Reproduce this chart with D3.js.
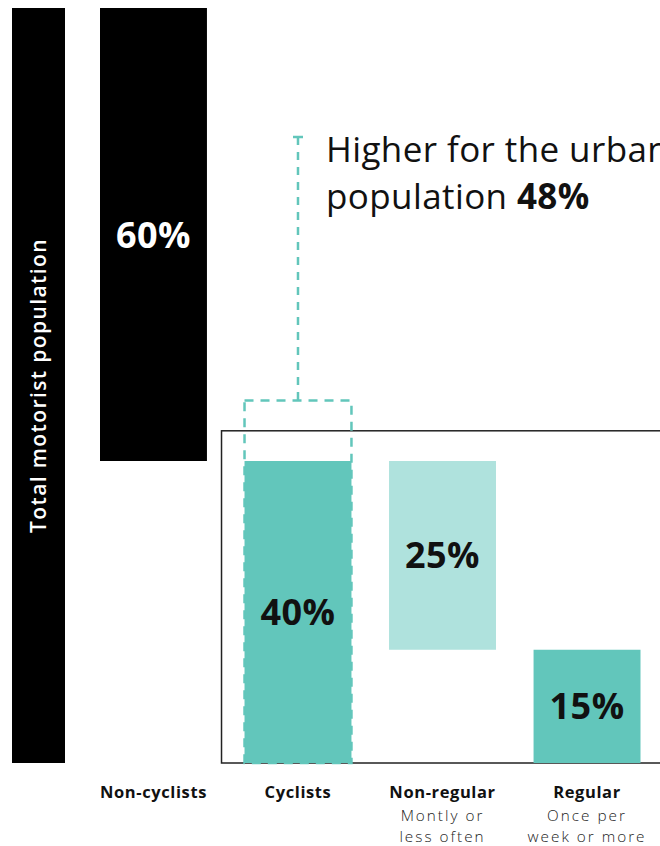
<!DOCTYPE html>
<html>
<head>
<meta charset="utf-8">
<script src="https://cdn.jsdelivr.net/npm/d3@7"></script>
<style>
  html, body { margin: 0; padding: 0; background: #fff; }
  svg { display: block; font-family: "Open Sans", sans-serif; }
</style>
</head>
<body>
<svg id="chart" width="660" height="846"></svg>
<script>
// ---- data ----
const categories = ["Non-cyclists", "Cyclists", "Non-regular", "Regular"];
const barStart   = [40, 0, 15, 0];      // bottom of each floating bar (%)
const barEnd     = [100, 40, 40, 15];   // top of each floating bar (%)
const barLabels  = ["60%", "40%", "25%", "15%"];
const barColors  = ["#000000", "#62c6bb", "#afe2dd", "#62c6bb"];
const labelColors = ["#ffffff", "#111111", "#111111", "#111111"];
const subLabels  = [[], [], ["Montly or", "less often"], ["Once per", "week or more"]];
const totalValue = 100;
const totalLabel = "Total motorist population";
const urbanValue = 48;
const urbanTitle = ["Higher for the urban", "population "];
const urbanLabel = "48%";
const frameLevel = 44;

// ---- scales ----
const svg = d3.select("#chart");
const y = d3.scaleLinear().domain([0, 100]).range([763, 8]);
const x = d3.scaleBand().domain(categories).range([100, 640.5]).paddingInner(0.26).paddingOuter(0);
const xTotal = d3.scaleBand().domain(["total"]).range([12, 65]);

const data = categories.map((c, i) => ({
  cat: c, start: barStart[i], end: barEnd[i], label: barLabels[i],
  color: barColors[i], labelColor: labelColors[i], sub: subLabels[i]
}));

// frame box
svg.append("rect")
  .attr("x", x("Cyclists") - 23)
  .attr("y", y(frameLevel))
  .attr("width", 600)
  .attr("height", y(0) - y(frameLevel))
  .attr("fill", "none")
  .attr("stroke", "#222")
  .attr("stroke-width", 1.5);

// total bar
svg.append("rect")
  .attr("x", xTotal("total"))
  .attr("y", y(totalValue))
  .attr("width", xTotal.bandwidth())
  .attr("height", y(0) - y(totalValue))
  .attr("fill", "#000");

svg.append("text")
  .attr("transform", `translate(${xTotal("total") + xTotal.bandwidth() / 2 + 7},${(y(0) + y(totalValue)) / 2}) rotate(-90)`)
  .attr("text-anchor", "middle")
  .attr("fill", "#fff")
  .attr("font-size", 21)
  .attr("font-weight", 600)
  .attr("letter-spacing", 1.4)
  .text(totalLabel);

// bars
svg.selectAll("rect.bar").data(data).enter().append("rect")
  .attr("class", "bar")
  .attr("x", d => x(d.cat))
  .attr("y", d => y(d.end))
  .attr("width", x.bandwidth())
  .attr("height", d => y(d.start) - y(d.end))
  .attr("fill", d => d.color);

svg.selectAll("text.val").data(data).enter().append("text")
  .attr("class", "val")
  .attr("x", d => x(d.cat) + x.bandwidth() / 2)
  .attr("y", d => (y(d.start) + y(d.end)) / 2 + 13)
  .attr("text-anchor", "middle")
  .attr("fill", d => d.labelColor)
  .attr("font-size", 36)
  .attr("font-weight", 700)
  .attr("letter-spacing", 0.5)
  .text(d => d.label);

// urban dashed outline
const teal = "#62c6bb";
svg.append("rect")
  .attr("x", x("Cyclists"))
  .attr("y", y(urbanValue))
  .attr("width", x.bandwidth())
  .attr("height", y(0) - y(urbanValue))
  .attr("fill", "none")
  .attr("stroke", teal)
  .attr("stroke-width", 2.5)
  .attr("stroke-dasharray", "9,7");

// annotation line
const ax = x("Cyclists") + x.bandwidth() / 2;
const aTop = 137;
svg.append("line")
  .attr("x1", ax).attr("x2", ax)
  .attr("y1", aTop).attr("y2", y(urbanValue))
  .attr("stroke", teal).attr("stroke-width", 2.5)
  .attr("stroke-dasharray", "8,7");
svg.append("line")
  .attr("x1", ax - 5).attr("x2", ax + 5)
  .attr("y1", aTop).attr("y2", aTop)
  .attr("stroke", teal).attr("stroke-width", 2.5);

// annotation text
const t1 = svg.append("text").attr("x", 326).attr("y", 162)
  .attr("font-size", 35).attr("font-weight", 400).attr("fill", "#111")
  .attr("letter-spacing", 0.4)
  .text(urbanTitle[0]);
const t2 = svg.append("text").attr("x", 326).attr("y", 209)
  .attr("font-size", 35).attr("font-weight", 400).attr("fill", "#111")
  .attr("letter-spacing", 0.4);
t2.append("tspan").text(urbanTitle[1]);
t2.append("tspan").attr("font-weight", 700).text(urbanLabel);

// category labels
const lab = svg.selectAll("g.lab").data(data).enter().append("g").attr("class", "lab")
  .attr("transform", d => `translate(${x(d.cat) + x.bandwidth() / 2},0)`);
lab.append("text")
  .attr("y", 798)
  .attr("text-anchor", "middle")
  .attr("font-size", 16.5)
  .attr("font-weight", 700)
  .attr("letter-spacing", 0.6)
  .attr("fill", "#111")
  .text(d => d.cat);
lab.each(function(d) {
  d3.select(this).selectAll("text.sub").data(d.sub).enter().append("text")
    .attr("class", "sub")
    .attr("y", (s, i) => 820.5 + i * 21)
    .attr("text-anchor", "middle")
    .attr("font-size", 15.3)
    .attr("font-weight", 300)
    .attr("letter-spacing", 2)
    .attr("fill", "#222")
    .text(s => s);
});
</script>
</body>
</html>
